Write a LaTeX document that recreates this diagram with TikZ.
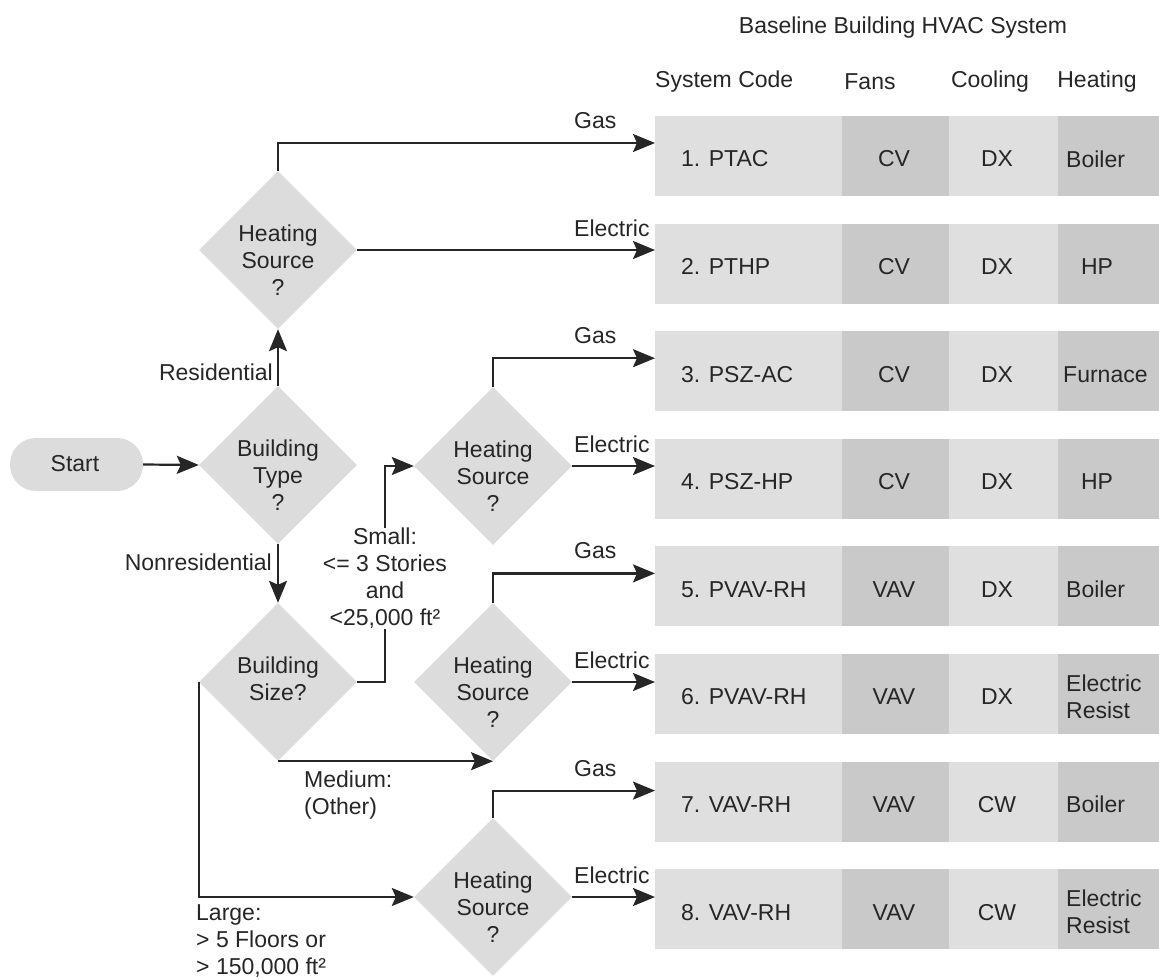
\documentclass[tikz,border=0pt]{standalone}
\usepackage{fontspec}
\setmainfont{Liberation Sans}
\usetikzlibrary{arrows.meta,shapes.geometric}
\definecolor{lightc}{HTML}{DFDFDF}
\definecolor{darkc}{HTML}{C9C9C9}
\definecolor{diac}{HTML}{DCDCDC}
\definecolor{ink}{HTML}{262626}
\definecolor{wirec}{HTML}{262626}
\begin{document}
\begin{tikzpicture}[x=1pt,y=-1pt,
  every node/.style={font=\fontsize{23}{27}\selectfont, text=ink},
  dia/.style={shape=diamond, fill=diac, minimum width=158pt, minimum height=158pt, inner sep=0pt},
  txt/.style={align=center, inner sep=0pt},
  ltxt/.style={align=left, inner sep=0pt},
  wire/.style={draw=wirec, line width=2.2pt},
  arr/.style={wire, -{Stealth[length=22pt,width=18pt,inset=4pt]}},
  cellL/.style={fill=lightc, minimum height=80pt, inner sep=0pt},
  cellD/.style={fill=darkc, minimum height=80pt, inner sep=0pt}]
\useasboundingbox (0,0) rectangle (1159,979);

% header
\node[txt] (title) at (903,28) {Baseline Building HVAC System};
\node[txt, anchor=west] (hcode) at (655,82) {System Code};
\node[txt] (hfans) at (870,82) {Fans};
\node[txt] (hcool) at (990,82) {Cooling};
\node[txt] (hheat) at (1097,82) {Heating};

% table rows
\foreach \i/\code/\fan/\cool/\heat/\ha/\hx in {
  1/{1. PTAC}/CV/DX/Boiler/west/1066,
  2/{2. PTHP}/CV/DX/HP/center/1097,
  3/{3. PSZ-AC}/CV/DX/Furnace/west/1063,
  4/{4. PSZ-HP}/CV/DX/HP/center/1097,
  5/{5. PVAV-RH}/VAV/DX/Boiler/west/1066,
  6/{6. PVAV-RH}/VAV/DX/{Electric\\Resist}/west/1066,
  7/{7. VAV-RH}/VAV/CW/Boiler/west/1066,
  8/{8. VAV-RH}/VAV/CW/{Electric\\Resist}/west/1066}{
  \pgfmathsetmacro\cy{156+107.6*(\i-1)}
  \node[cellL, minimum width=187pt, anchor=west] (r\i) at (655,\cy) {};
  \node[cellD, minimum width=107pt, anchor=west] (f\i) at (842,\cy) {};
  \node[cellL, minimum width=109pt, anchor=west] (k\i) at (949,\cy) {};
  \node[cellD, minimum width=101pt, anchor=west] (h\i) at (1058,\cy) {};
  \node[ltxt, anchor=west] (rc\i) at (681,\cy+3) {\code};
  \node[txt] (fc\i) at (894,\cy+3) {\fan};
  \node[txt] (kc\i) at (997,\cy+3) {\cool};
  \node[ltxt, anchor=\ha] (hc\i) at (\hx,\cy+3) {\heat};
}

% flowchart nodes
\node[fill=diac, rounded corners=26pt, minimum width=133pt, minimum height=53pt, inner sep=0pt] (start) at (76.5,464.5) {};
\node[txt] (startt) at (75,464) {Start};

\node[dia] (bt) at (278,465) {};
\node[txt] (btt) at (278,475) {Building\\Type\\?};
\node[dia] (hs1) at (278,250) {};
\node[txt] (hs1t) at (278,260) {Heating\\Source\\?};
\node[dia] (bs) at (278,682) {};
\node[txt] (bst) at (278,679) {Building\\Size?};
\node[dia] (hs2) at (493,466) {};
\node[txt] (hs2t) at (493,476) {Heating\\Source\\?};
\node[dia] (hs3) at (493,682) {};
\node[txt] (hs3t) at (493,692) {Heating\\Source\\?};
\node[dia] (hs4) at (493,897) {};
\node[txt] (hs4t) at (493,907) {Heating\\Source\\?};

% labels
\node[txt, anchor=east] (lres) at (273,372) {Residential};
\node[txt, anchor=east] (lnon) at (272,562) {Nonresidential};
\node[txt] (lsmall) at (385,578) {Small:\\<= 3 Stories\\and\\<25,000 ft²};
\node[ltxt, anchor=west] (lmed) at (304,795) {Medium:\\(Other)};
\node[ltxt, anchor=west] (llarge) at (196,941) {Large:\\> 5 Floors or\\> 150,000 ft²};

\node[ltxt, anchor=west] (g1) at (574,121) {Gas};
\node[ltxt, anchor=west] (e2) at (574,228) {Electric};
\node[ltxt, anchor=west] (g3) at (574,336) {Gas};
\node[ltxt, anchor=west] (e4) at (574,444) {Electric};
\node[ltxt, anchor=west] (g5) at (574,551) {Gas};
\node[ltxt, anchor=west] (e6) at (574,660) {Electric};
\node[ltxt, anchor=west] (g7) at (574,769) {Gas};
\node[ltxt, anchor=west] (e8) at (574,875) {Electric};

% connectors
\draw[arr] (start.east) -- (bt.west);
\draw[arr] (bt.north) -- (hs1.south);
\draw[arr] (bt.south) -- (bs.north);
\draw[wire] (bs.east) -| (lsmall.south);
\draw[arr] (lsmall.north) |- (hs2.west);
\draw[arr] (bs.south) -- (bs.south -| hs3.south);
\draw[arr] (bs.west) |- (hs4.west);

\draw[arr] (hs1.north) |- ([yshift=13pt]r1.west);
\draw[arr] (hs1.east) -- (hs1.east -| r2.west);
\draw[arr] (hs2.north) |- ([yshift=13pt]r3.west);
\draw[arr] (hs2.east) -- (hs2.east -| r4.west);
\draw[arr] (hs3.north) |- ([yshift=13pt]r5.west);
\draw[arr] (hs3.east) -- (hs3.east -| r6.west);
\draw[arr] (hs4.north) |- ([yshift=11pt]r7.west);
\draw[arr] (hs4.east) -- (hs4.east -| r8.west);
\end{tikzpicture}
\end{document}
